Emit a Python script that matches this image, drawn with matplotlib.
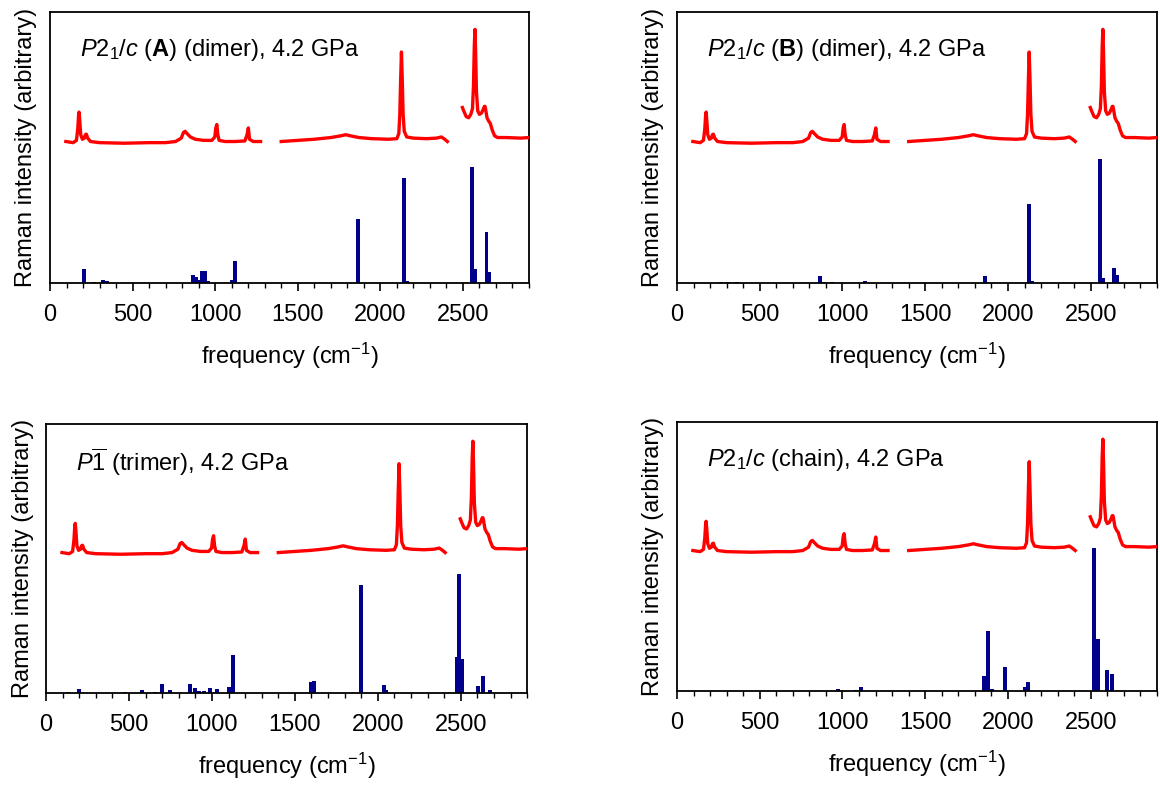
import matplotlib
matplotlib.use("Agg")
import matplotlib.pyplot as plt
from matplotlib.ticker import MultipleLocator

plt.rcParams["font.family"] = ["Liberation Sans", "DejaVu Sans"]
plt.rcParams["mathtext.fontset"] = "custom"
plt.rcParams["mathtext.rm"] = "Liberation Sans"
plt.rcParams["mathtext.it"] = "Liberation Sans:italic"
plt.rcParams["mathtext.bf"] = "Liberation Sans:bold"

# experimental Raman spectrum (same in all panels), normalised: baseline 0, top peak 1
seg1_freq = [96, 140, 160, 168, 173, 176, 180, 186, 196, 208, 214, 220, 228, 245, 300, 450, 600, 700, 760,
             795, 808, 818, 830, 850, 880, 930, 980, 998, 1004, 1010, 1016, 1024, 1060, 1120, 1180,
             1193, 1201, 1208, 1230, 1275]
seg1_int = [0.01, 0.0, 0.02, 0.12, 0.24, 0.27, 0.2, 0.07, 0.03, 0.04, 0.07, 0.075, 0.04, 0.01, 0.0, -0.005, 0.0, 0.0, 0.01,
            0.04, 0.09, 0.1, 0.08, 0.05, 0.03, 0.02, 0.02, 0.05, 0.13, 0.16, 0.07, 0.02, 0.01, 0.01, 0.015,
            0.07, 0.13, 0.03, 0.01, 0.01]
seg2_freq = [1400, 1500, 1600, 1700, 1760, 1790, 1820, 1870, 1950, 2050, 2100, 2112, 2118, 2123, 2128, 2133,
             2138, 2145, 2160, 2200, 2280, 2340, 2370, 2390, 2406]
seg2_int = [0.01, 0.02, 0.03, 0.045, 0.06, 0.07, 0.06, 0.045, 0.035, 0.03, 0.035, 0.08, 0.25, 0.55, 0.80, 0.55,
            0.25, 0.1, 0.05, 0.04, 0.035, 0.04, 0.05, 0.03, 0.01]
seg3_freq = [2497, 2505, 2520, 2535, 2548, 2558, 2564, 2569, 2573, 2577, 2582, 2590, 2600, 2612, 2622, 2630,
             2634, 2638, 2646, 2656, 2666, 2678, 2692, 2710, 2760, 2850, 2900]
seg3_int = [0.31, 0.28, 0.23, 0.22, 0.25, 0.3, 0.5, 0.85, 1.0, 0.8, 0.45, 0.28, 0.25, 0.26, 0.29, 0.32,
            0.32, 0.29, 0.22, 0.19, 0.17, 0.11, 0.06, 0.045, 0.045, 0.04, 0.045]

# calculated Raman intensities per structure
titles = [
    r"$P2_1/c$ ($\mathbf{A}$) (dimer), 4.2 GPa",
    r"$P2_1/c$ ($\mathbf{B}$) (dimer), 4.2 GPa",
    r"$P\overline{1}$ (trimer), 4.2 GPa",
    r"$P2_1/c$ (chain), 4.2 GPa",
]
dimer_a_freq = [208, 268, 320, 347, 866, 884, 905, 920, 940, 955, 1103, 1119, 1862, 2146, 2160, 2556, 2574, 2643, 2659]
dimer_a_int = [0.05, 0.003, 0.01, 0.006, 0.029, 0.022, 0.01, 0.043, 0.043, 0.006, 0.012, 0.081, 0.236, 0.389, 0.006,
               0.429, 0.05, 0.189, 0.04]
dimer_b_freq = [264, 309, 365, 863, 890, 935, 1136, 1863, 2124, 2142, 2556, 2572, 2639, 2657]
dimer_b_int = [0.004, 0.004, 0.002, 0.025, 0.005, 0.004, 0.006, 0.025, 0.291, 0.009, 0.457, 0.019, 0.056, 0.031]
trimer_freq = [134, 197, 246, 476, 577, 655, 698, 745, 865, 899, 923, 950, 988, 1031, 1100, 1127, 1599, 1617,
               1834, 1901, 2037, 2051, 2476, 2490, 2506, 2605, 2634, 2677]
trimer_int = [0.002, 0.015, 0.001, 0.004, 0.01, 0.005, 0.035, 0.01, 0.035, 0.017, 0.008, 0.008, 0.017, 0.015,
              0.022, 0.142, 0.04, 0.043, 0.001, 0.401, 0.03, 0.01, 0.134, 0.444, 0.128, 0.025, 0.065, 0.01]
chain_freq = [973, 1080, 1114, 1856, 1878, 1901, 1979, 2102, 2120, 2518, 2545, 2596, 2630]
chain_int = [0.009, 0.004, 0.014, 0.056, 0.224, 0.006, 0.088, 0.016, 0.033, 0.533, 0.193, 0.078, 0.063]

calc_freq = [dimer_a_freq, dimer_b_freq, trimer_freq, chain_freq]
calc_int = [dimer_a_int, dimer_b_int, trimer_int, chain_int]

# figure layout (pixel-matched to 1160x787)
axes_rects = [
    [0.0431, 0.6404, 0.4129, 0.3443],
    [0.5836, 0.6404, 0.4138, 0.3443],
    [0.0397, 0.1194, 0.4147, 0.3418],
    [0.5836, 0.1220, 0.4138, 0.3418],
]
spec_offset = 0.518
spec_scale = 0.418

fig = plt.figure(figsize=(11.6, 7.87), dpi=100)

for rect, title, freqs, ints in zip(axes_rects, titles, calc_freq, calc_int):
    ax = fig.add_axes(rect)
    ax.bar(freqs, ints, width=24, color="#00008b", align="center", zorder=2)
    for sf, si in [(seg1_freq, seg1_int), (seg2_freq, seg2_int), (seg3_freq, seg3_int)]:
        ax.plot(sf, [spec_offset + spec_scale * v for v in si], color="#ff0000", lw=2.4, zorder=3)
    ax.set_xlim(0, 2900)
    ax.set_ylim(0, 1)
    ax.set_yticks([])
    ax.xaxis.set_major_locator(MultipleLocator(500))
    ax.xaxis.set_minor_locator(MultipleLocator(100))
    ax.tick_params(axis="x", which="major", direction="out", length=6, width=1.2, pad=9, labelsize=17)
    ax.tick_params(axis="x", which="minor", direction="out", length=3.5, width=1.0)
    for sp in ax.spines.values():
        sp.set_linewidth(1.3)
    ax.set_xlabel("frequency (cm$^{-1}$)", fontsize=17, labelpad=11)
    ax.set_ylabel("Raman intensity (arbitrary)", fontsize=17, labelpad=9)
    ax.text(0.063, 0.86, title, transform=ax.transAxes, fontsize=17, va="center", ha="left")

fig.savefig("out.png", dpi=100)
